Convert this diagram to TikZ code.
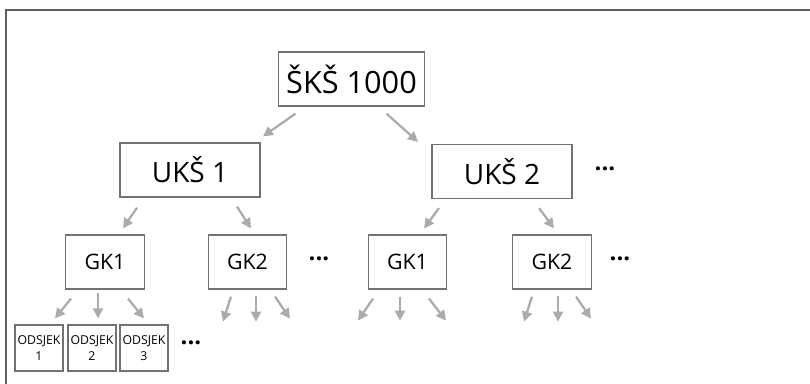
\documentclass[tikz,border=0pt]{standalone}
\usepackage{fontspec}
\setmainfont{Open Sans}
\usetikzlibrary{arrows.meta}

\definecolor{boxline}{HTML}{727272}
\definecolor{arrowgray}{HTML}{ABABAB}
\definecolor{frameline}{HTML}{5E5E5E}

\tikzset{
  box/.style={draw=boxline, line width=0.9pt, inner sep=0pt, align=center},
  topbox/.style={box, minimum width=110pt, minimum height=40.5pt, font=\fontsize{23}{26}\selectfont},
  ukbox/.style={box, minimum width=105pt, minimum height=40.5pt, font=\fontsize{21}{24}\selectfont},
  gkbox/.style={box, minimum width=59pt, minimum height=40.5pt, font=\fontsize{16}{18}\selectfont},
  odbox/.style={box, minimum width=36pt, minimum height=34.5pt, font=\fontsize{9.2}{11.5}\selectfont},
  arr/.style={draw=arrowgray, line width=1.7pt, -{Triangle[length=7.5pt,width=7.5pt]}, arrowgray},
  more/.style={inner sep=0pt, font=\bfseries\fontsize{18}{18}\selectfont},
}

\begin{document}
\begin{tikzpicture}[x=0.75pt,y=-0.75pt]
\useasboundingbox (0,0) rectangle (810,384);

% okvir
\draw[frameline, line width=1.5pt] (810,10) -- (6,10) -- (6,384);

% razine
\node[topbox] (sks) at (351.5,79) {ŠKŠ 1000};
\node[ukbox] (uks1) at (190,170) {UKŠ 1};
\node[ukbox] (uks2) at (502,171.5) {UKŠ 2};
\node[more] (dotsU) at (605,169) {...};

\node[gkbox] (gk1a) at (105,262) {GK1};
\node[gkbox] (gk2a) at (247.5,262) {GK2};
\node[more] (dotsA) at (319,259) {...};
\node[gkbox] (gk1b) at (407.5,262) {GK1};
\node[gkbox] (gk2b) at (552,262) {GK2};
\node[more] (dotsB) at (620,259) {...};

\node[odbox] (od1) at (39,348) {ODSJEK\\1};
\node[odbox] (od2) at (92,348) {ODSJEK\\2};
\node[odbox] (od3) at (144,348) {ODSJEK\\3};
\node[more] (dotsO) at (191,343) {...};

% strelice
\draw[arr] ([shift={(-56,7)}]sks.south) -- ([shift={(73,-6)}]uks1.north);
\draw[arr] ([shift={(35,7)}]sks.south) -- ([shift={(-84,-2)}]uks2.north);

\draw[arr] ([shift={(-53,10)}]uks1.south) -- ([shift={(18,-6)}]gk1a.north);
\draw[arr] ([shift={(47,9)}]uks1.south) -- ([shift={(3.5,-6)}]gk2a.north);
\draw[arr] ([shift={(-63,9)}]uks2.south) -- ([shift={(16.5,-6)}]gk1b.north);
\draw[arr] ([shift={(37,9)}]uks2.south) -- ([shift={(2,-6)}]gk2b.north);

\draw[arr] ([shift={(-34,9)}]gk1a.south) -- ([shift={(16,-6)}]od1.north);
\draw[arr] ([shift={(-7,3)}]gk1a.south) -- ([shift={(6,-6)}]od2.north);
\draw[arr] ([shift={(23,9)}]gk1a.south) -- ([shift={(0,-6)}]od3.north);

\foreach \g/\a/\b/\c in {gk2a/-16.5/8.5/27.5, gk2b/-20/6/24} {
  \draw[arr] ([shift={(\a,7)}]\g.south) -- ++(-8,25);
  \draw[arr] ([shift={(\b,6)}]\g.south) -- ++(0,26);
  \draw[arr] ([shift={(\c,7)}]\g.south) -- ++(15,22);
}
\draw[arr] ([shift={(-34.5,9)}]gk1b.south) -- ++(-15,22);
\draw[arr] ([shift={(-7.5,7)}]gk1b.south) -- ++(0,24);
\draw[arr] ([shift={(21.5,9)}]gk1b.south) -- ++(17,22);

\end{tikzpicture}
\end{document}
